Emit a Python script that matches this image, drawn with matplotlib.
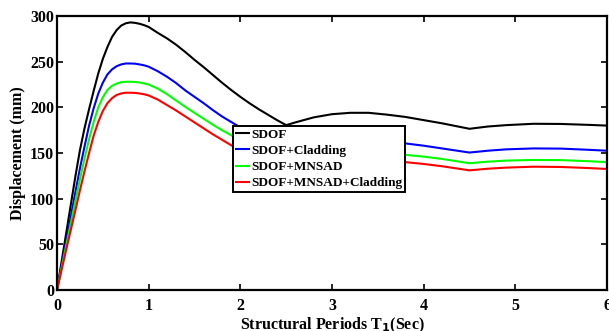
import matplotlib
matplotlib.use('Agg')
import matplotlib.pyplot as plt

# Periodo estructural (s) y desplazamiento espectral (mm) de cada sistema
periodo = [0, 0.1, 0.2, 0.25, 0.3, 0.35, 0.4, 0.45, 0.5, 0.55, 0.6, 0.65, 0.7, 0.75,
           0.8, 0.85, 0.9, 0.95, 1.0, 1.1, 1.2, 1.3, 1.4, 1.5, 1.6, 1.7, 1.8, 1.9,
           2.0, 2.1, 2.2, 2.3, 2.4, 2.5, 2.6, 2.8, 3.0, 3.2, 3.4, 3.6, 3.8, 4.0,
           4.2, 4.5, 4.7, 4.9, 5.2, 5.5, 5.8, 6.0]

sdof = [0, 62, 124, 153, 177, 198, 218, 237, 253, 266, 277, 284.5, 289.5, 292,
        293, 292.5, 291.5, 290, 288, 281.5, 275.5, 268.5, 260.5, 252, 244, 235.5, 227, 219,
        211.5, 204.5, 198, 192, 186, 180.5, 183.5, 189, 192.5, 194, 194, 192, 189.5, 186,
        182.5, 176.5, 179, 180.5, 182, 181.8, 180.8, 180]
sdof_cladding = [0, 53.5, 107, 133, 157, 180, 199, 215, 227, 236, 241.5, 245, 247, 248,
                 248, 247.8, 247, 246, 244.5, 239.5, 233.5, 226.5, 218.5, 211.5, 204.5, 197, 190, 184,
                 178, 172, 166.5, 161.5, 156.5, 152, 155, 159.5, 162, 163, 163, 162, 160.5, 158,
                 155, 150.5, 152.5, 154, 155, 154.8, 153.5, 152.5]
sdof_mnsad = [0, 48.5, 97, 121, 144, 165, 184, 200, 211, 219, 223.5, 226, 227.5, 228,
              228, 227.8, 227.2, 226.2, 225, 220.5, 214.5, 207.5, 200.5, 194, 187.5, 181, 175, 169.5,
              164, 158.5, 153.5, 149, 144.5, 140.5, 143, 147, 149.5, 150.5, 150.5, 150, 148, 146,
              143.5, 138.8, 140.5, 141.7, 142.4, 142.2, 141, 140]
sdof_mnsad_cladding = [0, 44, 87, 109, 130, 150, 169, 184, 196, 204.5, 210, 213.5, 215.2, 216,
                       216, 215.8, 215.2, 214.3, 213, 208.5, 202.5, 196.5, 190, 183.5, 177, 170.5, 164.5, 158.5,
                       153, 147.5, 142.5, 139, 135.5, 132, 134.5, 138.5, 141, 142.5, 142.5, 142, 140, 138,
                       135.5, 131, 132.8, 134, 135, 134.7, 133.5, 132.5]

series = [
    ("SDOF", sdof, "black"),
    ("SDOF+Cladding", sdof_cladding, "blue"),
    ("SDOF+MNSAD", sdof_mnsad, "#00ff00"),
    ("SDOF+MNSAD+Cladding", sdof_mnsad_cladding, "red"),
]

plt.rcParams['font.family'] = ['Liberation Serif', 'DejaVu Serif']
plt.rcParams['font.weight'] = 'bold'

fig = plt.figure(figsize=(6.09, 3.31), dpi=100)
ax = fig.add_axes([57 / 609, 1 - 290 / 331, 550 / 609, 274 / 331])

for nombre, valores, color in series:
    ax.plot(periodo, valores, color=color, lw=1.5, label=nombre)

ax.set_xlim(0, 6)
ax.set_ylim(0, 300)
ax.set_xticks(range(0, 7))
ax.set_yticks(range(0, 301, 50))
ax.tick_params(direction='in', length=4, width=1.2, top=True, right=True,
               labelsize=11.5)
ax.tick_params(axis='x', pad=6)
ax.tick_params(axis='y', pad=2)
for lbl in ax.get_xticklabels() + ax.get_yticklabels():
    lbl.set_fontweight('bold')
for sp in ax.spines.values():
    sp.set_linewidth(1.6)

ax.set_xlabel("Structural Periods T$_\\mathbf{1}$(Sec)", fontsize=11.5,
              fontweight='bold', labelpad=1)
ax.set_ylabel("Displacement (mm)", fontsize=11.5, fontweight='bold', labelpad=3)

leg = ax.legend(loc='upper left', bbox_to_anchor=(0.32, 0.6), fontsize=9.5,
                frameon=True, fancybox=False, framealpha=1, edgecolor='black',
                handlelength=1.0, handletextpad=0.15, borderpad=0.22,
                labelspacing=0.3, borderaxespad=0)
leg.get_frame().set_linewidth(1.4)
for t in leg.get_texts():
    t.set_fontweight('bold')

fig.savefig("out.png", dpi=100)
